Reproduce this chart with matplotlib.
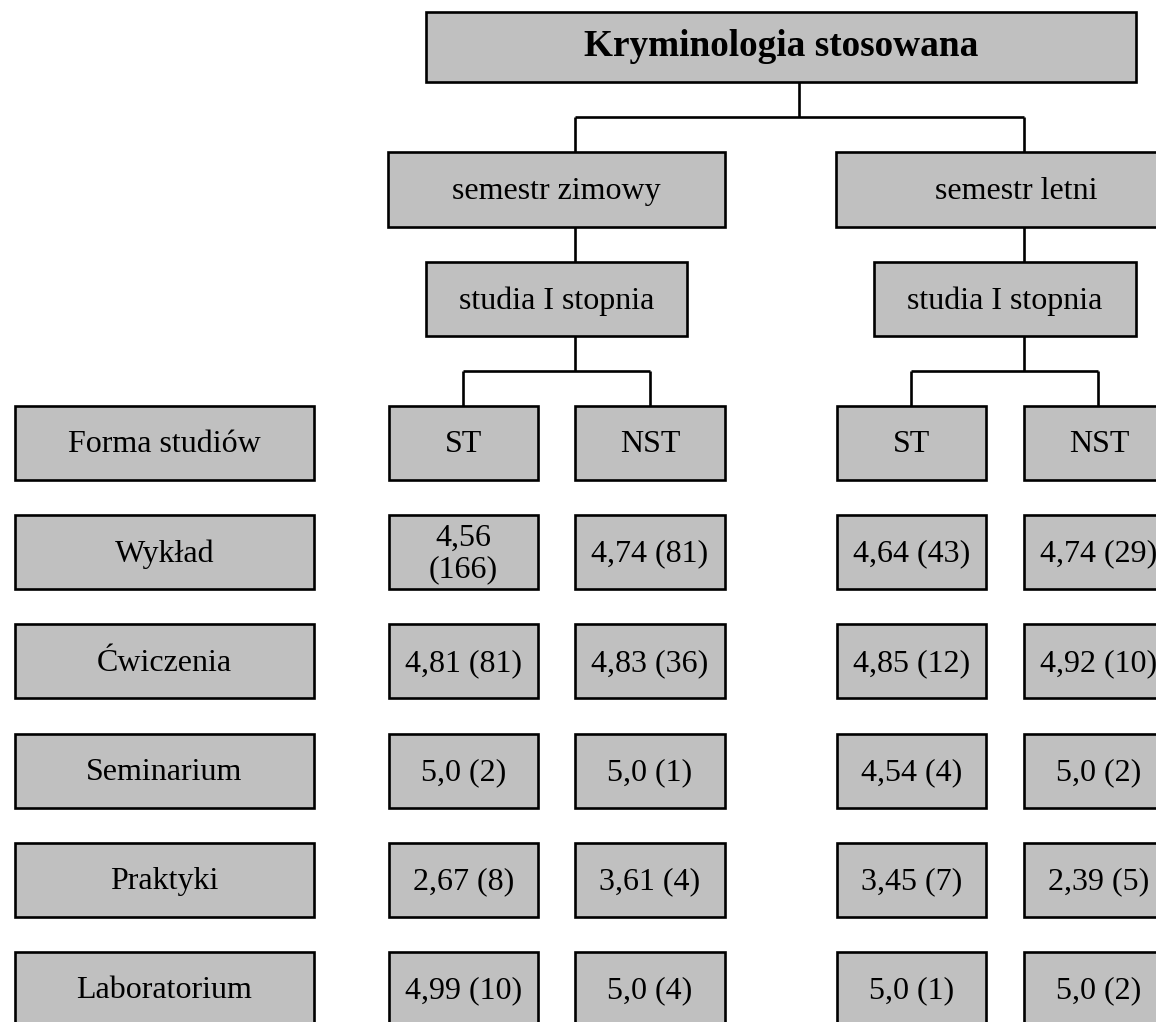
import matplotlib
matplotlib.use("Agg")
import matplotlib.pyplot as plt
from matplotlib.patches import Rectangle

title = "Kryminologia stosowana"
semesters = ["semestr zimowy", "semestr letni"]
levels = ["studia I stopnia", "studia I stopnia"]
header_label = "Forma studiów"
forms = ["ST", "NST", "ST", "NST"]
row_labels = ["Wykład", "Ćwiczenia", "Seminarium", "Praktyki", "Laboratorium"]
zimowy_st = ["4,56\n(166)", "4,81 (81)", "5,0 (2)", "2,67 (8)", "4,99 (10)"]
zimowy_nst = ["4,74 (81)", "4,83 (36)", "5,0 (1)", "3,61 (4)", "5,0 (4)"]
letni_st = ["4,64 (43)", "4,85 (12)", "4,54 (4)", "3,45 (7)", "5,0 (1)"]
letni_nst = ["4,74 (29)", "4,92 (10)", "5,0 (2)", "2,39 (5)", "5,0 (2)"]

W, H = 1156, 1022
fig = plt.figure(figsize=(W / 100, H / 100), dpi=100)
ax = fig.add_axes([0, 0, 1, 1])
ax.set_xlim(0, W)
ax.set_ylim(H, 0)
ax.axis("off")

FILL = "#c0c0c0"
LW = 1.9
FONT = ["Liberation Serif", "DejaVu Serif"]


def box(x0, y0, x1, y1, text, size=23, weight="normal", dy=2):
    ax.add_patch(Rectangle((x0, y0), x1 - x0, y1 - y0, facecolor=FILL,
                           edgecolor="black", linewidth=LW, zorder=2))
    cx = (x0 + x1) / 2
    ax.text(cx, (y0 + y1) / 2 + dy, text, ha="center", va="center", fontsize=size,
            fontweight=weight, family=FONT, zorder=3, linespacing=1.1)


def line(xs, ys):
    ax.plot(xs, ys, color="black", linewidth=LW, zorder=1, solid_capstyle="butt")


# title
box(426, 12, 1136, 82, title, size=26.8, weight="bold", dy=0)
line([799, 799], [82, 117])
line([575, 1024], [117, 117])
line([575, 575], [117, 152])
line([1024, 1024], [117, 152])

# semesters
box(388, 152, 725, 227, semesters[0])
box(836, 152, 1196, 227, semesters[1])
line([575, 575], [227, 262])
line([1024, 1024], [227, 262])

# levels
box(426, 262, 687, 336, levels[0])
box(874, 262, 1136, 336, levels[1])
line([575, 575], [336, 371])
line([463, 650], [371, 371])
line([463, 463], [371, 406])
line([650, 650], [371, 406])
line([1024, 1024], [336, 371])
line([911, 1098], [371, 371])
line([911, 911], [371, 406])
line([1098, 1098], [371, 406])

col_x = [(389, 538), (575, 725), (837, 986), (1024, 1174)]
row_top0 = 406
row_step = 109.2
row_h = 74

# header row
box(15, row_top0, 314, row_top0 + row_h, header_label)
for (x0, x1), f in zip(col_x, forms):
    box(x0, row_top0, x1, row_top0 + row_h, f)

columns = [zimowy_st, zimowy_nst, letni_st, letni_nst]
for i, lab in enumerate(row_labels):
    y0 = row_top0 + (i + 1) * row_step
    box(15, y0, 314, y0 + row_h, lab)
    for (x0, x1), col in zip(col_x, columns):
        box(x0, y0, x1, y0 + row_h, col[i])

fig.savefig("out.png", dpi=100, facecolor="white")
